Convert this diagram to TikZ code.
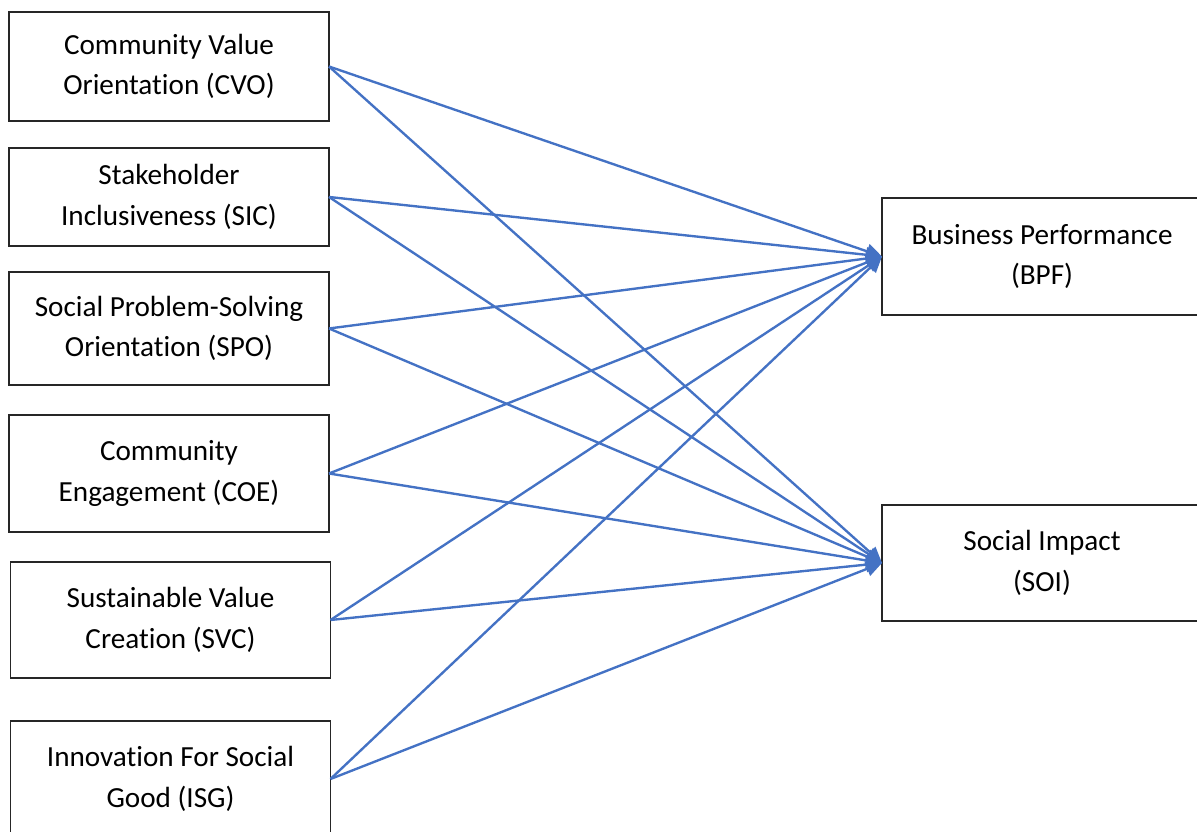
\documentclass[tikz,border=0pt]{standalone}
\usepackage{fontspec}
\setmainfont[Ligatures = NoCommon]{Carlito}
\usetikzlibrary{arrows.meta}

\definecolor{linkblue}{HTML}{4472C4}
\definecolor{boxgray}{HTML}{262626}

\tikzset{
	box/.style = {draw = boxgray, line width = 0.8pt, shape = rectangle,
				  minimum width = 6.4cm, align = center, inner sep = 0pt,
				  outer sep = 0pt,
				  font = \fontsize{16.6}{23.2}\selectfont},
	link/.style = {draw = linkblue, line width = 1.35pt,
				   -{Triangle[length = 9pt, width = 8.5pt]}}
}

\begin{document}
\begin{tikzpicture}
	\useasboundingbox (0,0) rectangle (23.94,16.64);

	\draw (3.38,15.31) node[box, minimum height = 2.18cm] (CVO)
			{Community Value\\Orientation (CVO)};
	
	\draw (3.38,12.70) node[box, minimum height = 1.96cm] (SIC)
			{Stakeholder\\Inclusiveness (SIC)};
	
	\draw (3.38,10.07) node[box, minimum height = 2.26cm] (SPO)
			{Social Problem-Solving\\Orientation (SPO)};
	
	\draw (3.38,7.17) node[box, minimum height = 2.34cm] (COE)
			{Community\\Engagement (COE)};
	
	\draw (3.41,4.24) node[box, minimum height = 2.32cm] (SVC)
			{Sustainable Value\\Creation (SVC)};
	
	\draw (3.41,1.06) node[box, minimum height = 2.32cm] (ISG)
			{Innovation For Social\\Good (ISG)};
	
	\draw (20.84,11.51) node[box, minimum height = 2.34cm] (BPF)
			{Business Performance\\(BPF)};
	
	\draw (20.84,5.38) node[box, minimum height = 2.32cm] (SOI)
			{Social Impact\\(SOI)};

	\foreach \src in {CVO, SIC, SPO, COE, SVC, ISG} {
		\draw[link] (\src.east) -- (BPF.west);
		\draw[link] (\src.east) -- (SOI.west);
	}
\end{tikzpicture}
\end{document}
